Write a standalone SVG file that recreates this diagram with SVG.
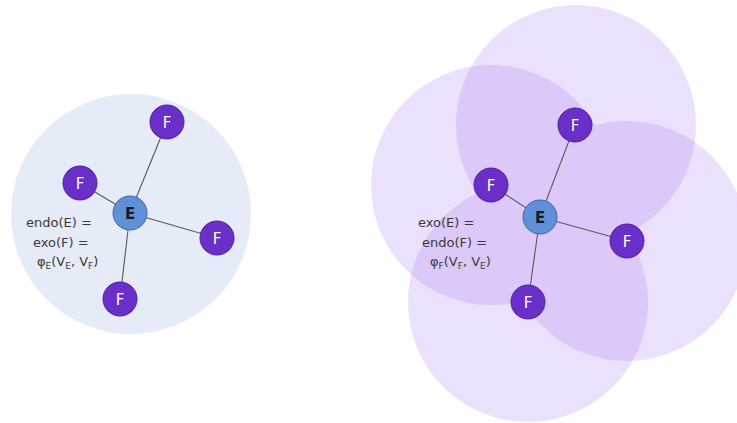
<svg xmlns="http://www.w3.org/2000/svg" width="737" height="423" viewBox="0 0 737 423">
<style>
.bg{fill:#ffffff}
.halo{fill:#e5ebf7}
.cloud{fill:#9a5cf0}
.layer{opacity:0.18}
.edge{stroke:#5a5a5a;stroke-width:1.1;fill:none}
.f circle{fill:#6b2fc9;stroke:#4f1f9e;stroke-width:1}
.f text{fill:#ffffff;font-family:"DejaVu Sans",sans-serif;font-size:15px;text-anchor:middle}
.e circle{fill:#6090d8;stroke:#3d66a6;stroke-width:1}
.e text{fill:#141a2b;font-family:"DejaVu Sans",sans-serif;font-size:15px;font-weight:bold;text-anchor:middle}
.lbl{fill:#3a3a3a;font-family:"DejaVu Sans",sans-serif;font-size:13px}
.sub{font-size:9px}
</style>
<defs>
<clipPath id="cT"><circle cx="576" cy="125" r="120"/></clipPath>
<clipPath id="cL"><circle cx="491" cy="185" r="120"/></clipPath>
<clipPath id="cR"><circle cx="627" cy="241" r="120"/></clipPath>
</defs>
<rect class="bg" x="0" y="0" width="737" height="423"/>
<g id="left-region">
<circle class="halo" cx="131" cy="214" r="120"/>
</g>
<g id="right-regions">
<g class="layer">
<circle class="cloud" cx="576" cy="125" r="120"/>
<circle class="cloud" cx="491" cy="185" r="120"/>
<circle class="cloud" cx="627" cy="241" r="120"/>
<circle class="cloud" cx="528" cy="302" r="120"/>
</g>
<g class="layer">
<circle class="cloud" cx="491" cy="185" r="120" clip-path="url(#cT)"/>
<circle class="cloud" cx="627" cy="241" r="120" clip-path="url(#cT)"/>
<circle class="cloud" cx="528" cy="302" r="120" clip-path="url(#cT)"/>
<circle class="cloud" cx="627" cy="241" r="120" clip-path="url(#cL)"/>
<circle class="cloud" cx="528" cy="302" r="120" clip-path="url(#cL)"/>
<circle class="cloud" cx="528" cy="302" r="120" clip-path="url(#cR)"/>
</g>
</g>
<g id="connectors">
<line class="edge" x1="130" y1="213" x2="167" y2="122"/>
<line class="edge" x1="130" y1="213" x2="80" y2="183"/>
<line class="edge" x1="130" y1="213" x2="217" y2="238"/>
<line class="edge" x1="130" y1="213" x2="120" y2="299"/>
<line class="edge" x1="540" y1="217" x2="575" y2="125"/>
<line class="edge" x1="540" y1="217" x2="491" y2="185"/>
<line class="edge" x1="540" y1="217" x2="627" y2="241"/>
<line class="edge" x1="540" y1="217" x2="528" y2="302"/>
</g>
<g id="left-E" class="e"><circle cx="130" cy="213" r="17"/><text x="130" y="219">E</text></g>
<g id="left-F1" class="f"><circle cx="167" cy="122" r="17"/><text x="167" y="128">F</text></g>
<g id="left-F2" class="f"><circle cx="80" cy="183" r="17"/><text x="80" y="189">F</text></g>
<g id="left-F3" class="f"><circle cx="217" cy="238" r="17"/><text x="217" y="244">F</text></g>
<g id="left-F4" class="f"><circle cx="120" cy="299" r="17"/><text x="120" y="305">F</text></g>
<g id="right-E" class="e"><circle cx="540" cy="217" r="17"/><text x="540" y="223">E</text></g>
<g id="right-F1" class="f"><circle cx="575" cy="125" r="17"/><text x="575" y="131">F</text></g>
<g id="right-F2" class="f"><circle cx="491" cy="185" r="17"/><text x="491" y="191">F</text></g>
<g id="right-F3" class="f"><circle cx="627" cy="241" r="17"/><text x="627" y="247">F</text></g>
<g id="right-F4" class="f"><circle cx="528" cy="302" r="17"/><text x="528" y="308">F</text></g>
<g id="left-label">
<text class="lbl" x="26" y="227">endo(E) =</text>
<text class="lbl" x="33" y="247">exo(F) =</text>
<text class="lbl" x="37" y="266">φ<tspan class="sub" dy="3">E</tspan><tspan dy="-3">(V</tspan><tspan class="sub" dy="3">E</tspan><tspan dy="-3">, V</tspan><tspan class="sub" dy="3">F</tspan><tspan dy="-3">)</tspan></text>
</g>
<g id="right-label">
<text class="lbl" x="418" y="227">exo(E) =</text>
<text class="lbl" x="422" y="247">endo(F) =</text>
<text class="lbl" x="430" y="266">φ<tspan class="sub" dy="3">F</tspan><tspan dy="-3">(V</tspan><tspan class="sub" dy="3">F</tspan><tspan dy="-3">, V</tspan><tspan class="sub" dy="3">E</tspan><tspan dy="-3">)</tspan></text>
</g>
</svg>
